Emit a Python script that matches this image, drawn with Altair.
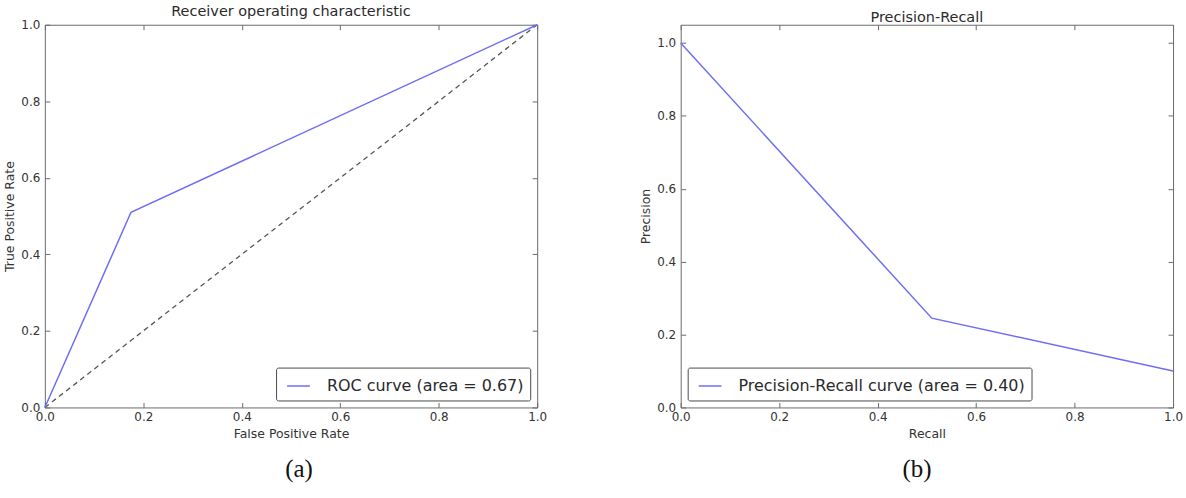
import altair as alt
import pandas as pd

# ROC curve points and the chance diagonal
roc_fpr = [0.0, 0.175, 1.0]
roc_tpr = [0.0, 0.51, 1.0]
roc_label = "ROC curve (area = 0.67)"
chance_x = [0.0, 1.0]
chance_y = [0.0, 1.0]

# Precision-recall curve points
pr_recall = [0.0, 0.51, 1.0]
pr_precision = [1.0, 0.245, 0.1]
pr_label = "Precision-Recall curve (area = 0.40)"

tick_values = [0.0, 0.2, 0.4, 0.6, 0.8, 1.0]
panel_titles = ["Receiver operating characteristic", "Precision-Recall"]
captions = ["(a)", "(b)"]

W, H = 494, 384
BLUE = "#6e6ef4"
FRAME = "#6b6b6b"
TEXT = "#2a2a2a"


def inward_axis(orient, offset):
    return alt.Axis(orient=orient, offset=offset, labels=False, title=None,
                    domain=False, grid=False, ticks=True, tickSize=5,
                    tickColor=FRAME, values=tick_values)


def panel(df, xf, yf, xtitle, ytitle, title, label, ydomain,
          legend_orient, caption, caption_x, extra=None):
    xs = alt.Scale(domain=[0, 1], nice=False, zero=False)
    ys = alt.Scale(domain=ydomain, nice=False, zero=False)

    line = alt.Chart(df).mark_line(strokeWidth=1.5).encode(
        x=alt.X(f"{xf}:Q", scale=xs,
                axis=alt.Axis(title=xtitle, values=tick_values, format=".1f",
                              ticks=False, grid=False, domain=False,
                              labelPadding=4, titlePadding=5,
                              labelFlush=False, labelOverlap=False)),
        y=alt.Y(f"{yf}:Q", scale=ys,
                axis=alt.Axis(title=ytitle, values=tick_values, format=".1f",
                              ticks=False, grid=False, domain=False,
                              labelPadding=5, titlePadding=4,
                              labelFlush=False, labelOverlap=False)),
        color=alt.Color("series:N",
                        scale=alt.Scale(domain=[label], range=[BLUE]),
                        legend=alt.Legend(
                            title=None, orient=legend_orient, offset=7,
                            padding=6, strokeColor="#4a4a4a", fillColor="white",
                            cornerRadius=2, symbolType="stroke",
                            symbolStrokeWidth=1.5, symbolSize=520,
                            symbolOffset=4, labelOffset=16,
                            labelFontSize=16, labelFont="DejaVu Sans",
                            labelColor=TEXT, labelLimit=500)),
    )

    # ticks pointing into the plot on all four sides
    ticks_a = alt.Chart(df).mark_point(opacity=0).encode(
        x=alt.X(f"{xf}:Q", scale=xs, axis=inward_axis("top", -H)),
        y=alt.Y(f"{yf}:Q", scale=ys, axis=inward_axis("right", -W)),
    )
    ticks_b = alt.Chart(df).mark_point(opacity=0).encode(
        x=alt.X(f"{xf}:Q", scale=xs, axis=inward_axis("bottom", -H)),
        y=alt.Y(f"{yf}:Q", scale=ys, axis=inward_axis("left", -W)),
    )

    cap = alt.Chart(pd.DataFrame({"t": [caption]})).mark_text(
        font="Liberation Serif", fontSize=25, color="#111",
        baseline="middle", align="center",
    ).encode(text="t:N", x=alt.value(caption_x), y=alt.value(446))

    layers = [line, ticks_a, ticks_b, cap]
    if extra is not None:
        layers.insert(0, extra)

    return alt.layer(*layers).resolve_axis(
        x="independent", y="independent"
    ).properties(
        width=W, height=H,
        title=alt.TitleParams(title, fontSize=14.5, font="DejaVu Sans",
                              fontWeight="normal", color=TEXT, offset=-1,
                              anchor="middle"),
    )


roc_df = pd.DataFrame({"fpr": roc_fpr, "tpr": roc_tpr, "series": roc_label})
pr_df = pd.DataFrame({"recall": pr_recall, "precision": pr_precision,
                      "series": pr_label})
chance_df = pd.DataFrame({"fpr": chance_x, "tpr": chance_y})

diag = alt.Chart(chance_df).mark_line(
    color="#555555", strokeWidth=1.3, strokeDash=[5, 4]
).encode(
    x=alt.X("fpr:Q", scale=alt.Scale(domain=[0, 1], nice=False),
            axis=None),
    y=alt.Y("tpr:Q", scale=alt.Scale(domain=[0, 1], nice=False),
            axis=None),
)

left = panel(roc_df, "fpr", "tpr", "False Positive Rate", "True Positive Rate",
             panel_titles[0], roc_label, [0, 1], "bottom-right",
             captions[0], 255, extra=diag)
right = panel(pr_df, "recall", "precision", "Recall", "Precision",
              panel_titles[1], pr_label, [0, 1.05], "bottom-left",
              captions[1], 237)

chart = alt.hconcat(left, right, spacing=91).resolve_scale(
    color="independent"
).resolve_legend(
    color="independent"
).properties(
    padding={"left": 3, "top": 3, "right": 2, "bottom": 2},
    background="white",
).configure_view(
    stroke=FRAME, strokeWidth=1
).configure_axis(
    labelFont="DejaVu Sans", labelFontSize=12, labelColor="#333333",
    titleFont="DejaVu Sans", titleFontSize=12.5, titleFontWeight="normal",
    titleColor="#333333",
)

chart.save("out.html", embed_options={"renderer": "svg", "actions": False})
